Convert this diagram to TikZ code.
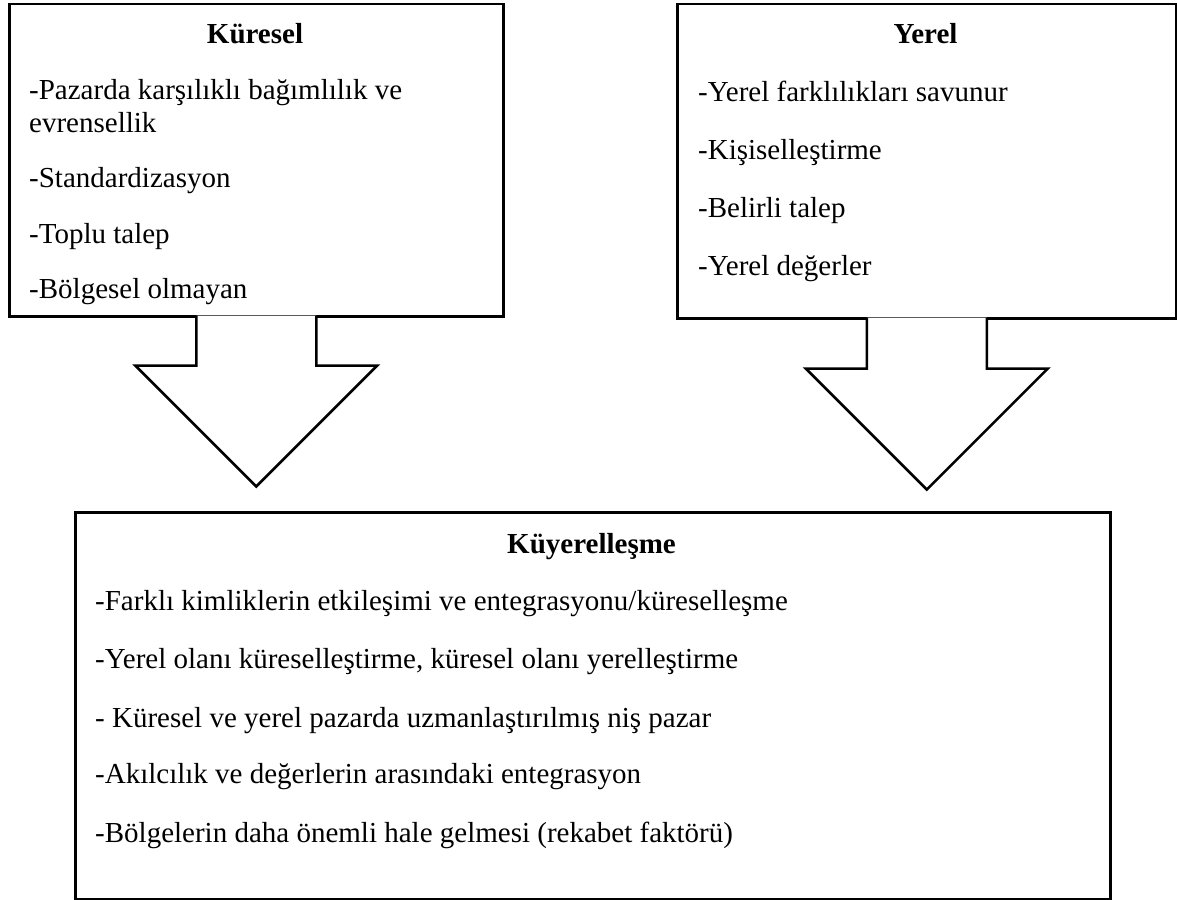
\documentclass[tikz,border=0pt]{standalone}
\usepackage{fontspec}
\setmainfont{Liberation Serif}
\begin{document}
\begin{tikzpicture}[x=1pt,y=-1pt,
  box/.style={draw=black, line width=2.5pt, rectangle, inner sep=0pt, anchor=north west},
  blockarrow/.style={draw=black, fill=white, line width=2.5pt, line join=miter},
  title/.style={anchor=base, inner sep=0pt, font=\fontsize{29}{33}\selectfont\bfseries},
  item/.style={anchor=base west, inner sep=0pt, font=\fontsize{29}{33}\selectfont}]
\useasboundingbox (0,0) rectangle (1177,899);

% the three boxes
\node[box, minimum width=494pt, minimum height=312pt] (kur) at (8,3) {};
\node[box, minimum width=499pt, minimum height=314pt] (yer) at (676,3) {};
\node[box, minimum width=1035pt, minimum height=387pt] (kuy) at (74,511) {};

% block arrows from the upper boxes towards the lower one
\coordinate (kurtip) at ([yshift=-169pt]kur.south);
\coordinate (yertip) at ([yshift=-170pt]yer.south);
\path[blockarrow] ([xshift=-60pt,yshift=2pt]kur.south) -- ++(0,50) -- ++(-61,0)
  -- (kurtip) -- ([xshift=121pt,yshift=-48pt]kur.south) -- ++(-61,0) -- ++(0,-50);
\path[blockarrow] ([xshift=-60pt,yshift=2pt]yer.south) -- ++(0,51) -- ++(-61,0)
  -- (yertip) -- ([xshift=121pt,yshift=-49pt]yer.south) -- ++(-61,0) -- ++(0,-51);

% Küresel
\node[title] (kurT) at (255,44) {Küresel};
\node[item] (kur1) at (29,99) {-Pazarda karşılıklı bağımlılık ve};
\node[item] (kur1b) at (29,132) {evrensellik};
\node[item] (kur2) at (29,187) {-Standardizasyon};
\node[item] (kur3) at (29,243) {-Toplu talep};
\node[item] (kur4) at (29,298) {-Bölgesel olmayan};

% Yerel
\node[title] (yerT) at (925.5,44) {Yerel};
\node[item] (yer1) at (698,101) {-Yerel farklılıkları savunur};
\node[item] (yer2) at (698,159) {-Kişiselleştirme};
\node[item] (yer3) at (698,217) {-Belirli talep};
\node[item] (yer4) at (698,275) {-Yerel değerler};

% Küyerelleşme
\node[title] (kuyT) at (591.5,553) {Küyerelleşme};
\node[item] (kuy1) at (95,610) {-Farklı kimliklerin etkileşimi ve entegrasyonu/küreselleşme};
\node[item] (kuy2) at (95,668) {-Yerel olanı küreselleştirme, küresel olanı yerelleştirme};
\node[item] (kuy3) at (95,727) {- Küresel ve yerel pazarda uzmanlaştırılmış niş pazar};
\node[item] (kuy4) at (95,783) {-Akılcılık ve değerlerin arasındaki entegrasyon};
\node[item] (kuy5) at (95,842) {-Bölgelerin daha önemli hale gelmesi (rekabet faktörü)};
\end{tikzpicture}
\end{document}
